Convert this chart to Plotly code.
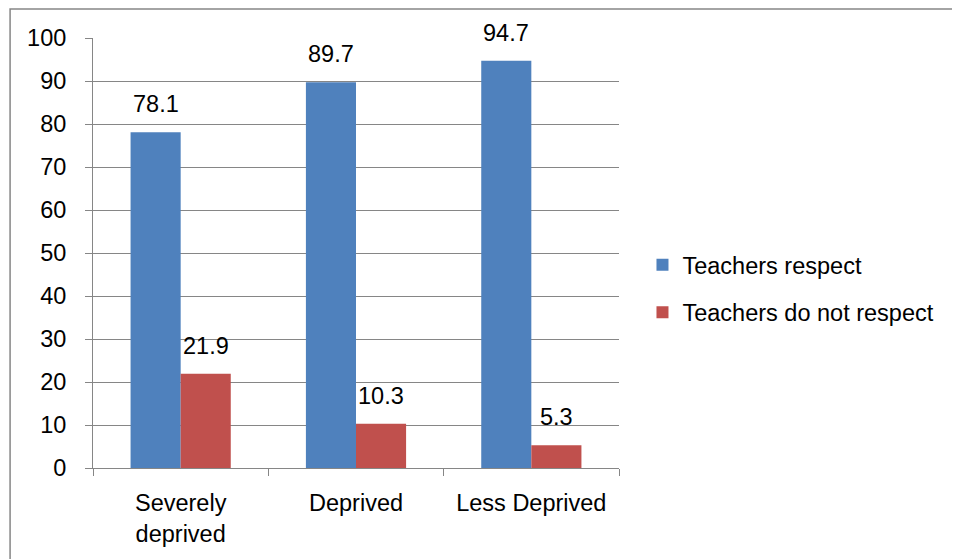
import plotly.graph_objects as go

categories = ["Severely<br>deprived", "Deprived", "Less Deprived"]
respect = [78.1, 89.7, 94.7]
not_respect = [21.9, 10.3, 5.3]
y_ticks = [0, 10, 20, 30, 40, 50, 60, 70, 80, 90, 100]

FONT = "Liberation Sans"
FS = 23.5
GRAY = "#868686"

# figure sits at page offset (8, 8); plot area in page px: x 93..619.5, y 38..468
W, H = 952, 551
L, T = 85, 30
PW, PH = 526.5, 430

fig = go.Figure()
fig.add_trace(go.Bar(x=categories, y=respect, name="Teachers respect",
                     marker=dict(color="#4F81BD", line=dict(width=0)),
                     legendgroup="a"))
fig.add_trace(go.Bar(x=categories, y=not_respect, name="Teachers do not respect",
                     marker=dict(color="#C0504D", line=dict(width=0)),
                     legendgroup="b"))

annotations = []
bar_w = PW / 3 * (1 - 0.4286) / 2
for vals, sgn in ((respect, -1), (not_respect, 1)):
    for c, v in zip(categories, vals):
        annotations.append(dict(x=c, y=v, xref="x", yref="y", text=str(v),
                                showarrow=False, xanchor="center", yanchor="bottom",
                                xshift=sgn * bar_w / 2, yshift=13,
                                font=dict(size=FS, family=FONT, color="black")))

fig.update_layout(
    width=W, height=H,
    margin=dict(l=L, r=W - L - PW, t=T, b=H - T - PH, autoexpand=False),
    paper_bgcolor="white", plot_bgcolor="white",
    barmode="group", bargap=0.4286, bargroupgap=0,
    font=dict(family=FONT, size=FS, color="black"),
    showlegend=True,
    legend=dict(x=(643 - 93) / PW, y=(468 - 289) / PH, xanchor="left", yanchor="middle",
                font=dict(size=FS, family=FONT), tracegroupgap=14, traceorder="grouped",
                itemwidth=30),
    annotations=annotations,
    shapes=[dict(type="rect", xref="paper", yref="paper",
                 x0=(10 - 93) / PW, x1=(990 - 93) / PW,
                 y0=(468 - 590) / PH, y1=(468 - 9) / PH,
                 line=dict(color=GRAY, width=1.5), fillcolor="rgba(0,0,0,0)", layer="below")],
)
fig.update_yaxes(range=[0, 100], tickvals=y_ticks, showgrid=True, gridcolor=GRAY, gridwidth=1,
                 showline=True, linecolor=GRAY, linewidth=1, ticks="outside", ticklen=7,
                 tickcolor=GRAY, zeroline=False, tickfont=dict(size=FS), ticklabelstandoff=14,
                 fixedrange=True)
fig.update_xaxes(showline=True, linecolor=GRAY, linewidth=1, ticks="outside", ticklen=7,
                 tickcolor=GRAY, tickson="boundaries", showgrid=False, tickfont=dict(size=FS),
                 ticklabelstandoff=14)

fig.write_html("out.html")
